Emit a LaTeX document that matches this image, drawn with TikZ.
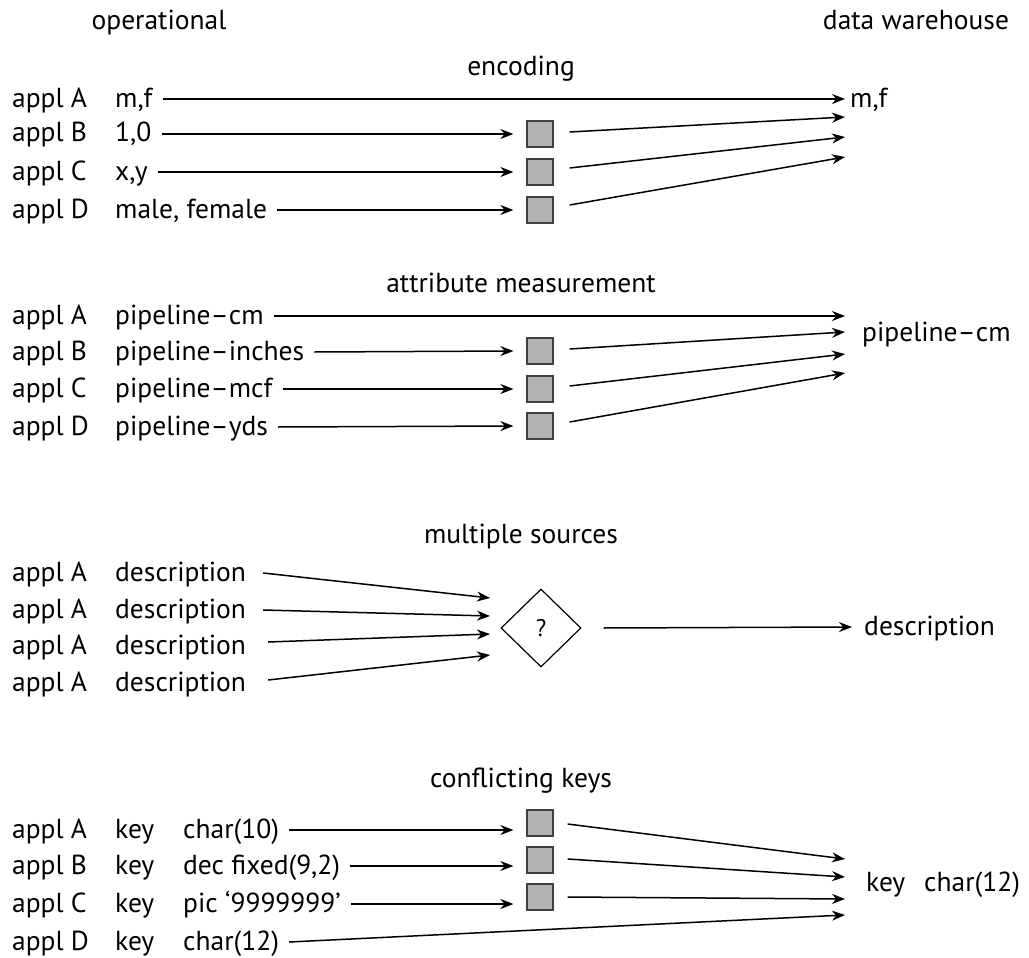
\documentclass[tikz,border=0pt]{standalone}
\usepackage{fontspec}
\setmainfont{PT Sans}
\usetikzlibrary{arrows.meta,shapes.geometric}
\begin{document}
\begin{tikzpicture}[x=1pt,y=-1pt]
\tikzset{
  txt/.style={anchor=west, inner xsep=0pt, inner ysep=0pt, text height=17pt, text depth=1pt,
              font=\fontsize{27.5}{32}\selectfont},
  ttl/.style={anchor=base, inner sep=0pt, font=\fontsize{27.5}{32}\selectfont},
  conv/.style={draw=black!75, fill=black!30, line width=1.2pt, minimum size=26pt, inner sep=0pt},
  merge/.style={diamond, draw, line width=1.2pt, minimum width=80pt, minimum height=78pt,
                inner sep=0pt, font=\fontsize{24}{28}\selectfont},
  arr/.style={-{Stealth[length=13pt,width=10pt]}, line width=1.5pt}
}
\useasboundingbox (0,0) rectangle (1029,958);

% column headings
\node[ttl] (op) at (159,30) {operational};
\node[ttl] (dw) at (916,30) {data warehouse};

% ---------- encoding ----------
\node[ttl] (enc) at (521,76) {encoding};
\node[txt] (e1a) at (12,99) {appl A};  \node[txt] (e1v) at (115,99) {m,f};
\node[txt] (e2a) at (12,134) {appl B}; \node[txt] (e2v) at (115,134) {1,0};
\node[txt] (e3a) at (12,172) {appl C}; \node[txt] (e3v) at (115,172) {x,y};
\node[txt] (e4a) at (12,210) {appl D}; \node[txt] (e4v) at (115,210) {male, female};
\node[conv] (eb2) at (540,134) {};
\node[conv] (eb3) at (540,172) {};
\node[conv] (eb4) at (540,210) {};
\node[txt] (eout) at (850,99) {m,f};
\coordinate (et2) at (845,117);
\coordinate (et3) at (845,137);
\coordinate (et4) at (845,157);
\draw[arr] ([xshift=10pt]e1v.east) -- ([xshift=-5pt]eout.west);
\draw[arr] ([xshift=10pt]e2v.east) -- ([xshift=-13pt]eb2.west);
\draw[arr] ([xshift=10pt]e3v.east) -- ([xshift=-13pt]eb3.west);
\draw[arr] ([xshift=10pt]e4v.east) -- ([xshift=-13pt]eb4.west);
\draw[arr] ([xshift=16pt,yshift=2pt]eb2.east) -- (et2);
\draw[arr] ([xshift=16pt,yshift=4pt]eb3.east) -- (et3);
\draw[arr] ([xshift=16pt,yshift=5pt]eb4.east) -- (et4);

% ---------- attribute measurement ----------
\node[ttl] (att) at (521,292) {attribute measurement};
\node[txt] (m1a) at (12,316) {appl A}; \node[txt] (m1v) at (115,316) {pipeline–cm};
\node[txt] (m2a) at (12,352) {appl B}; \node[txt] (m2v) at (115,352) {pipeline–inches};
\node[txt] (m3a) at (12,389) {appl C}; \node[txt] (m3v) at (115,389) {pipeline–mcf};
\node[txt] (m4a) at (12,427) {appl D}; \node[txt] (m4v) at (115,427) {pipeline–yds};
\node[conv] (mb2) at (540,351) {};
\node[conv] (mb3) at (540,389) {};
\node[conv] (mb4) at (540,426) {};
\node[txt] (mout) at (862,333) {pipeline–cm};
\coordinate (mt1) at (845,316);
\coordinate (mt2) at (845,332);
\coordinate (mt3) at (845,354);
\coordinate (mt4) at (845,373);
\draw[arr] ([xshift=10pt]m1v.east) -- (mt1);
\draw[arr] ([xshift=10pt]m2v.east) -- ([xshift=-13pt]mb2.west);
\draw[arr] ([xshift=10pt]m3v.east) -- ([xshift=-13pt]mb3.west);
\draw[arr] ([xshift=10pt]m4v.east) -- ([xshift=-13pt]mb4.west);
\draw[arr] ([xshift=16pt,yshift=2pt]mb2.east) -- (mt2);
\draw[arr] ([xshift=16pt,yshift=3pt]mb3.east) -- (mt3);
\draw[arr] ([xshift=16pt,yshift=4pt]mb4.east) -- (mt4);

% ---------- multiple sources ----------
\node[ttl] (mul) at (521,543) {multiple sources};
\node[txt] (s1a) at (12,573) {appl A}; \node[txt] (s1v) at (115,573) {description};
\node[txt] (s2a) at (12,610) {appl A}; \node[txt] (s2v) at (115,610) {description};
\node[txt] (s3a) at (12,646) {appl A}; \node[txt] (s3v) at (115,646) {description};
\node[txt] (s4a) at (12,683) {appl A}; \node[txt] (s4v) at (115,683) {description};
\node[merge] (q) at (541,628) {?};
\node[txt] (sout) at (864,627) {description};
\coordinate (st1) at (490,598);
\coordinate (st2) at (490,616);
\coordinate (st3) at (490,634);
\coordinate (st4) at (490,655);
\draw[arr] ([xshift=17pt]s1v.east) -- (st1);
\draw[arr] ([xshift=17pt]s2v.east) -- (st2);
\draw[arr] ([xshift=22pt,yshift=4pt]s3v.east) -- (st3);
\draw[arr] ([xshift=22pt,yshift=3pt]s4v.east) -- (st4);
\draw[arr] ([xshift=22pt]q.east) -- ([xshift=-12pt]sout.west);

% ---------- conflicting keys ----------
\node[ttl] (con) at (521,787) {conflicting keys};
\node[txt] (k1a) at (12,830) {appl A}; \node[txt] (k1k) at (115,830) {key}; \node[txt] (k1v) at (183,830) {char(10)};
\node[txt] (k2a) at (12,866) {appl B}; \node[txt] (k2k) at (115,866) {key}; \node[txt] (k2v) at (183,866) {dec fixed(9,2)};
\node[txt] (k3a) at (12,904) {appl C}; \node[txt] (k3k) at (115,904) {key}; \node[txt] (k3v) at (183,904) {pic ‘9999999’};
\node[txt] (k4a) at (12,942) {appl D}; \node[txt] (k4k) at (115,942) {key}; \node[txt] (k4v) at (183,942) {char(12)};
\node[conv] (kb1) at (540,823) {};
\node[conv] (kb2) at (540,860) {};
\node[conv] (kb3) at (540,897) {};
\node[txt] (kout) at (866,883) {key};
\node[txt] (kout2) at (924,883) {char(12)};
\coordinate (kt1) at (845,859);
\coordinate (kt2) at (845,877);
\coordinate (kt3) at (845,899);
\coordinate (kt4) at (845,915);
\draw[arr] ([xshift=10pt]k1v.east) -- ([xshift=-13pt]kb1.west |- k1v.east);
\draw[arr] ([xshift=10pt]k2v.east) -- ([xshift=-13pt]kb2.west |- k2v.east);
\draw[arr] ([xshift=10pt]k3v.east) -- ([xshift=-13pt]kb3.west |- k3v.east);
\draw[arr] ([xshift=14pt,yshift=-1pt]kb1.east) -- (kt1);
\draw[arr] ([xshift=14pt,yshift=1pt]kb2.east) -- (kt2);
\draw[arr] ([xshift=14pt]kb3.east) -- (kt3);
\draw[arr] ([xshift=10pt]k4v.east) -- (kt4);
\end{tikzpicture}
\end{document}
